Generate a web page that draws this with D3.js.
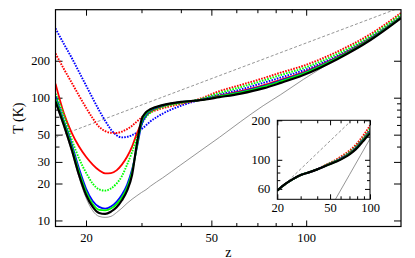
<!DOCTYPE html>
<html><head><meta charset="utf-8">
<script src="https://cdn.jsdelivr.net/npm/d3@7"></script>
<style>body{margin:0;background:#fff;}svg{display:block;}</style>
</head><body>
<svg id="chart" width="415" height="258"></svg>
<script>
// ---------- main panel data ----------
const zMain = [16,17,18,19,20,21,22,23,24,25,26,27,28,29,30,31,32,35,40,46,53,62,73,83,98,125,160,200];
const tBlackSolid = [93,60,38,23.5,16.2,12.9,11.5,11.3,11.8,12.8,14.6,17.5,23.5,42,66,76,80.5,87,92.4,95.4,101,108,119,132,153,205,295,445];
const tGreenSolid = [98,63,40,25,17.2,13.6,12.2,12.1,12.5,13.6,15.4,18.5,25,40,63,74,79.5,86.5,92.2,95.4,102.5,110.5,122.5,136,157,209,299,450];
const tBlueSolid  = [102,65,42,26.5,18.2,14.4,12.9,12.5,13,14.2,16.2,19.5,26,39,60,72,78.5,86,92,95.4,103,111.5,124,138,159,211,301,452];
const tRedSolid   = [130,75,52,40,33,28.5,25.6,24.2,24.3,25.6,28.5,33,40,51,62,71,76.5,85,91,95.5,104,113,126,140,161,213,303,455];
const tGreenDot   = [108,72,46,32,24.5,20,17.9,17.5,18.2,20,23,28.5,36,47,60,69.5,75.5,84,90.5,97,109,122,138,153,174,226,318,475];
const tRedDot     = [229,172,133,104,83,68,58,53.5,51.8,51.6,53,55.5,59,64,69,73,76,82,89,98,113,127,144,160,182,236,330,490];
const tBlueDot    = [367,275,212,162,126,99,79,65,55,49.5,47.5,48,49.5,52,55.5,59.5,64,74,86,96,106,117,132,146,167,218,310,462];
const tGrayThin   = [90,58,36.5,22.5,15.3,12,10.8,10.6,10.8,11.6,12.6,13.8,14.9,15.9,16.9,17.8,19,22.2,28.4,36.7,47.5,64,86,106,141,208,309,440];
const zCmb = [16,200];
const tCmb = [47.5,545];

// ---------- inset data ----------
const zInset = [20,23,26.4,30,35,40,47,56,63,71,78,84,91,97,100];
const tInBlack  = [58.3,65.5,71.5,76.5,80.5,84.5,90.5,97,103,111,120,130,143,154,159];
const tInGreen  = [58.3,65.5,71.5,76.5,80.5,84.5,90.7,97.6,103.8,112,121.5,132,145.5,157,161];
const tInBlue   = [58.3,65.5,71.5,76.5,80.5,84.5,90.8,97.9,104.3,112.7,122.3,133,146.5,158,162];
const tInRed    = [58.3,65.5,71.5,76.5,80.5,84.5,91,98.3,105,113.5,123.5,134.5,148,160,164];
const tInGreenDot = [58.3,65.5,71.5,76.5,80.5,84.6,91.5,99.5,106.5,116,126,137,151,165,173];
const tInBlueDot  = [58.3,65.5,71.5,76.5,80.5,84.6,91,98.5,105,114,124,134.5,148,161,168];
const tInRedDot   = [58.3,65.5,71.5,76.5,80.6,84.8,92,101,109,119,130,142,158,174,183];
const zInCmb = [20,100];
const tInCmb = [57.5,272];
const zInGray = [50,54.5,70,85,100];
const tInGray = [42.4,49.4,76.9,108.5,144.6];

// ---------- ticks ----------
const xMajor = [20,50,100];
const xMinor = [30,40,60,70,80,90];
const yMajor = [10,20,30,50,100,200];
const yMinor = [40,60,70,80,90];
const xInMajor = [20,50,100];
const xInMinor = [30,40,60,70,80,90];
const yInMajor = [60,100,200];
const yInMinor = [70,80,90,150];

const FONT = "'Liberation Serif','DejaVu Serif',serif";
const DOT = '1.6,1.2';
const svg = d3.select('#chart');

const L = 55.5, R = 401, T = 9.7, B = 226.5;
const x = d3.scaleLog().domain([16,200]).range([L,R]);
const y = d3.scaleLog().domain([8.93,521]).range([B,T]);

svg.append('clipPath').attr('id','clipMain').append('rect')
  .attr('x',L).attr('y',T).attr('width',R-L).attr('height',B-T);

function styleAxis(g){
  g.select('.domain').remove();
  g.selectAll('line').attr('stroke','#000').attr('stroke-width',1);
  g.selectAll('text').attr('font-family',FONT).attr('font-size',12.5).attr('fill','#000');
}
function fmt(d){ return String(d); }

// main axes
svg.append('g').attr('transform',`translate(0,${B})`)
  .call(d3.axisBottom(x).tickValues(xMajor).tickSize(-6).tickPadding(6.5).tickFormat(fmt)).call(styleAxis);
svg.append('g').attr('transform',`translate(0,${B})`)
  .call(d3.axisBottom(x).tickValues(xMinor).tickSize(-3.5).tickFormat('')).call(styleAxis);
svg.append('g').attr('transform',`translate(0,${T})`)
  .call(d3.axisTop(x).tickValues(xMajor).tickSize(-6).tickFormat('')).call(styleAxis);
svg.append('g').attr('transform',`translate(0,${T})`)
  .call(d3.axisTop(x).tickValues(xMinor).tickSize(-3.5).tickFormat('')).call(styleAxis);
svg.append('g').attr('transform',`translate(${L},0)`)
  .call(d3.axisLeft(y).tickValues(yMajor).tickSize(-7).tickPadding(5.5).tickFormat(fmt)).call(styleAxis);
svg.append('g').attr('transform',`translate(${L},0)`)
  .call(d3.axisLeft(y).tickValues(yMinor).tickSize(-4).tickFormat('')).call(styleAxis);
svg.append('g').attr('transform',`translate(${R},0)`)
  .call(d3.axisRight(y).tickValues(yMajor).tickSize(-7).tickFormat('')).call(styleAxis);
svg.append('g').attr('transform',`translate(${R},0)`)
  .call(d3.axisRight(y).tickValues(yMinor).tickSize(-4).tickFormat('')).call(styleAxis);

const mainG = svg.append('g').attr('clip-path','url(#clipMain)');
function drawLine(g, xs, zs, ts, ys, color, width, dash){
  const data = zs.map((z,i)=>[z,ts[i]]);
  const line = d3.line().x(d=>xs(d[0])).y(d=>ys(d[1])).curve(d3.curveMonotoneX);
  g.append('path').datum(data).attr('d',line).attr('fill','none')
    .attr('stroke',color).attr('stroke-width',width)
    .attr('stroke-dasharray',dash||null).attr('stroke-linejoin','round');
}
drawLine(mainG,x,zCmb,tCmb,y,'#7a7a7a',0.8,'3,2');
drawLine(mainG,x,zMain,tGrayThin,y,'#7a7a7a',0.8);
drawLine(mainG,x,zMain,tBlueDot,y,'#0000ff',1.9,DOT);
drawLine(mainG,x,zMain,tRedDot,y,'#ff0000',1.9,DOT);
drawLine(mainG,x,zMain,tRedSolid,y,'#ff0000',1.8);
drawLine(mainG,x,zMain,tGreenDot,y,'#00ff00',1.9,DOT);
drawLine(mainG,x,zMain,tBlueSolid,y,'#0000ff',1.8);
drawLine(mainG,x,zMain,tGreenSolid,y,'#00ff00',1.8);
drawLine(mainG,x,zMain,tBlackSolid,y,'#000000',2.2);

svg.append('rect').attr('x',L).attr('y',T).attr('width',R-L).attr('height',B-T)
  .attr('fill','none').attr('stroke','#000').attr('stroke-width',1.2);

// axis titles
svg.append('text').attr('x',(L+R)/2).attr('y',256.5).attr('text-anchor','middle')
  .attr('font-family',FONT).attr('font-size',14).text('z');
svg.append('text').attr('transform',`translate(23,${(T+B)/2}) rotate(-90)`).attr('text-anchor','middle')
  .attr('font-family',FONT).attr('font-size',14).text('T (K)');

// ---------- inset ----------
const iL = 277.3, iR = 370, iT = 120.3, iB = 199.3;
const xi = d3.scaleLog().domain([20,100]).range([iL,iR]);
const yi = d3.scaleLog().domain([50,200]).range([iB,iT]);
svg.append('rect').attr('x',iL).attr('y',iT).attr('width',iR-iL).attr('height',iB-iT).attr('fill','#fff');
svg.append('clipPath').attr('id','clipIn').append('rect')
  .attr('x',iL).attr('y',iT).attr('width',iR-iL).attr('height',iB-iT);

svg.append('g').attr('transform',`translate(0,${iB})`)
  .call(d3.axisBottom(xi).tickValues(xInMajor).tickSize(-5).tickPadding(3.8).tickFormat(fmt)).call(styleAxis);
svg.append('g').attr('transform',`translate(0,${iB})`)
  .call(d3.axisBottom(xi).tickValues(xInMinor).tickSize(-3).tickFormat('')).call(styleAxis);
svg.append('g').attr('transform',`translate(0,${iT})`)
  .call(d3.axisTop(xi).tickValues(xInMajor).tickSize(-5).tickFormat('')).call(styleAxis);
svg.append('g').attr('transform',`translate(0,${iT})`)
  .call(d3.axisTop(xi).tickValues(xInMinor).tickSize(-3).tickFormat('')).call(styleAxis);
svg.append('g').attr('transform',`translate(${iL},0)`)
  .call(d3.axisLeft(yi).tickValues(yInMajor).tickSize(-5).tickPadding(7).tickFormat(fmt)).call(styleAxis);
svg.append('g').attr('transform',`translate(${iL},0)`)
  .call(d3.axisLeft(yi).tickValues(yInMinor).tickSize(-3).tickFormat('')).call(styleAxis);
svg.append('g').attr('transform',`translate(${iR},0)`)
  .call(d3.axisRight(yi).tickValues(yInMajor).tickSize(-5).tickFormat('')).call(styleAxis);
svg.append('g').attr('transform',`translate(${iR},0)`)
  .call(d3.axisRight(yi).tickValues(yInMinor).tickSize(-3).tickFormat('')).call(styleAxis);

const inG = svg.append('g').attr('clip-path','url(#clipIn)');
drawLine(inG,xi,zInCmb,tInCmb,yi,'#7a7a7a',0.8,'3,2');
drawLine(inG,xi,zInGray,tInGray,yi,'#7a7a7a',0.8);
drawLine(inG,xi,zInset,tInRedDot,yi,'#ff0000',1.9,DOT);
drawLine(inG,xi,zInset,tInGreenDot,yi,'#00ff00',1.9,DOT);
drawLine(inG,xi,zInset,tInBlueDot,yi,'#0000ff',1.9,DOT);
drawLine(inG,xi,zInset,tInRed,yi,'#ff0000',1.8);
drawLine(inG,xi,zInset,tInBlue,yi,'#0000ff',1.8);
drawLine(inG,xi,zInset,tInGreen,yi,'#00ff00',1.8);
drawLine(inG,xi,zInset,tInBlack,yi,'#000000',2.2);
svg.append('rect').attr('x',iL).attr('y',iT).attr('width',iR-iL).attr('height',iB-iT)
  .attr('fill','none').attr('stroke','#000').attr('stroke-width',1);
</script>
</body></html>
